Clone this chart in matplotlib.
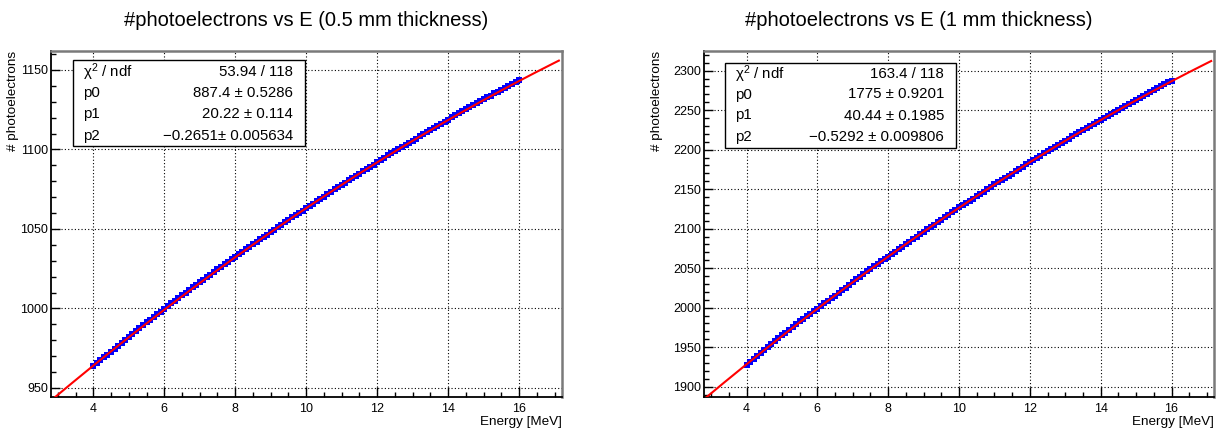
import numpy as np
import matplotlib
matplotlib.use("Agg")
import matplotlib.pyplot as plt
from matplotlib.patches import Rectangle
from matplotlib.ticker import MultipleLocator

plt.rcParams['font.family'] = ['Liberation Sans', 'DejaVu Sans']
plt.rcParams['mathtext.fontset'] = 'custom'
plt.rcParams['mathtext.rm'] = 'Liberation Sans'
plt.rcParams['mathtext.it'] = 'Liberation Sans:italic'

# ---------------- data ----------------
energy = [4.0, 4.1, 4.2, 4.3, 4.4, 4.5, 4.6, 4.7, 4.8, 4.9,
          5.0, 5.1, 5.2, 5.3, 5.4, 5.5, 5.6, 5.7, 5.8, 5.9,
          6.0, 6.1, 6.2, 6.3, 6.4, 6.5, 6.6, 6.7, 6.8, 6.9,
          7.0, 7.1, 7.2, 7.3, 7.4, 7.5, 7.6, 7.7, 7.8, 7.9,
          8.0, 8.1, 8.2, 8.3, 8.4, 8.5, 8.6, 8.7, 8.8, 8.9,
          9.0, 9.1, 9.2, 9.3, 9.4, 9.5, 9.6, 9.7, 9.8, 9.9,
          10.0, 10.1, 10.2, 10.3, 10.4, 10.5, 10.6, 10.7, 10.8, 10.9,
          11.0, 11.1, 11.2, 11.3, 11.4, 11.5, 11.6, 11.7, 11.8, 11.9,
          12.0, 12.1, 12.2, 12.3, 12.4, 12.5, 12.6, 12.7, 12.8, 12.9,
          13.0, 13.1, 13.2, 13.3, 13.4, 13.5, 13.6, 13.7, 13.8, 13.9,
          14.0, 14.1, 14.2, 14.3, 14.4, 14.5, 14.6, 14.7, 14.8, 14.9,
          15.0, 15.1, 15.2, 15.3, 15.4, 15.5, 15.6, 15.7, 15.8, 15.9,
          16.0]

npe_05mm = [963.6, 965.5, 967.3, 969.2, 971.0, 972.8, 974.7, 976.5, 978.4, 980.3,
            982.2, 984.1, 985.8, 987.7, 989.4, 991.2, 992.8, 994.6, 996.3, 998.0,
            999.8, 1001.4, 1003.2, 1004.8, 1006.5, 1008.2, 1009.9, 1011.5, 1013.2, 1014.8,
            1016.5, 1018.1, 1019.7, 1021.3, 1022.9, 1024.5, 1026.1, 1027.7, 1029.3, 1030.9,
            1032.5, 1034.0, 1035.6, 1037.2, 1038.7, 1040.3, 1041.8, 1043.5, 1045.0, 1046.5,
            1048.1, 1049.6, 1051.1, 1052.7, 1054.1, 1055.7, 1057.2, 1058.6, 1060.2, 1061.6,
            1063.2, 1064.6, 1066.0, 1067.6, 1069.0, 1070.4, 1072.0, 1073.3, 1074.9, 1076.2,
            1077.7, 1079.2, 1080.5, 1082.0, 1083.4, 1084.8, 1086.3, 1087.6, 1089.1, 1090.5,
            1092.0, 1093.4, 1094.9, 1096.2, 1097.6, 1099.0, 1100.3, 1101.6, 1103.0, 1104.3,
            1105.6, 1106.8, 1108.2, 1109.4, 1110.8, 1112.1, 1113.5, 1114.8, 1116.2, 1117.5,
            1118.8, 1120.1, 1121.4, 1122.7, 1123.9, 1125.2, 1126.5, 1127.7, 1129.0, 1130.2,
            1131.5, 1132.7, 1133.9, 1135.2, 1136.3, 1137.6, 1138.8, 1140.0, 1141.2, 1142.4,
            1143.5]

npe_1mm = [1927.2, 1931.0, 1934.8, 1938.5, 1942.3, 1946.0, 1949.8, 1953.6, 1957.4, 1961.1,
           1964.8, 1968.5, 1972.1, 1975.6, 1979.0, 1982.5, 1985.7, 1989.0, 1992.3, 1995.6,
           1998.9, 2002.1, 2005.3, 2008.5, 2011.7, 2015.0, 2018.4, 2021.9, 2025.4, 2028.9,
           2032.5, 2036.0, 2039.4, 2042.8, 2046.0, 2049.2, 2052.3, 2055.4, 2058.5, 2061.6,
           2064.7, 2067.8, 2070.8, 2073.8, 2076.9, 2080.0, 2083.2, 2086.5, 2089.7, 2092.9,
           2096.0, 2099.0, 2101.9, 2104.9, 2108.0, 2111.1, 2114.3, 2117.6, 2120.8, 2123.9,
           2126.9, 2129.9, 2132.7, 2135.5, 2138.2, 2140.9, 2143.8, 2146.8, 2149.9, 2153.0,
           2156.1, 2159.0, 2161.7, 2164.4, 2167.0, 2169.8, 2172.6, 2175.6, 2178.6, 2181.6,
           2184.5, 2187.3, 2190.0, 2192.6, 2195.2, 2197.8, 2200.4, 2203.0, 2205.7, 2208.4,
           2211.2, 2213.9, 2216.7, 2219.5, 2222.2, 2224.9, 2227.5, 2230.0, 2232.5, 2235.0,
           2237.4, 2239.9, 2242.4, 2245.0, 2247.6, 2250.3, 2252.9, 2255.5, 2258.1, 2260.6,
           2263.1, 2265.6, 2268.1, 2270.6, 2273.1, 2275.6, 2278.0, 2280.4, 2282.8, 2285.1,
           2287.4]

energy_halfwidth = 0.05
npe_err_05mm = 1.5
npe_err_1mm = 2.6

fit_05mm = [887.4, 20.22, -0.2651]
fit_1mm = [1775.0, 40.44, -0.5292]

stats_05mm = [("χ$^{2}$ / ndf", "53.94 / 118"),
              ("p0", "887.4 ± 0.5286"),
              ("p1", "20.22 ± 0.114"),
              ("p2", "\u22120.2651± 0.005634")]
stats_1mm = [("χ$^{2}$ / ndf", "163.4 / 118"),
             ("p0", "1775 ± 0.9201"),
             ("p1", "40.44 ± 0.1985"),
             ("p2", "\u22120.5292 ± 0.009806")]

titles = ["#photoelectrons vs E (0.5 mm thickness)",
          "#photoelectrons vs E (1 mm thickness)"]
xlabel = "Energy [MeV]"
ylabel = "# photoelectrons"

# ---------------- figure ----------------
W, H = 1225, 430
fig = plt.figure(figsize=(W / 100, H / 100), dpi=100)


def fx(px):
    return px / W


def fy(py):
    return 1 - py / H


panels = [
    dict(ax_px=(50.7, 561.7), y=npe_05mm, err=npe_err_05mm, fit=fit_05mm,
         ylim=(944.5, 1162.1), ymaj=50, ymin=10, stats=stats_05mm,
         box=(73, 60, 305, 146), lab_x=83, val_x=293, rows=[72, 93, 114, 136],
         title_x=306, ylab_x=13),
    dict(ax_px=(704, 1214), y=npe_1mm, err=npe_err_1mm, fit=fit_1mm,
         ylim=(1887.3, 2325.3), ymaj=50, ymin=10, stats=stats_1mm,
         box=(725, 63, 956, 148), lab_x=735, val_x=944, rows=[74, 94.5, 115.5, 137],
         title_x=919, ylab_x=657),
]

top_px, bot_px = 50.7, 396.7
for i, p in enumerate(panels):
    l, r = p['ax_px']
    ax = fig.add_axes([fx(l), fy(bot_px), fx(r - l), (bot_px - top_px) / H])
    ax.set_xlim(2.8, 17.2)
    ax.set_ylim(*p['ylim'])
    ax.xaxis.set_major_locator(MultipleLocator(2))
    ax.xaxis.set_minor_locator(MultipleLocator(0.5))
    ax.yaxis.set_major_locator(MultipleLocator(p['ymaj']))
    ax.yaxis.set_minor_locator(MultipleLocator(p['ymin']))
    ax.grid(True, which='major', color='black', linestyle=(0, (1, 2)), linewidth=0.8)
    ax.set_axisbelow(True)
    ax.tick_params(axis='both', which='both', direction='in', top=False, right=False,
                   labelsize=9, colors='black')
    ax.tick_params(axis='x', which='major', length=7, width=1, pad=4.5)
    ax.tick_params(axis='x', which='minor', length=3.5, width=1)
    ax.tick_params(axis='y', which='major', length=6.5, width=1, pad=2)
    ax.tick_params(axis='y', which='minor', length=3.5, width=1)
    for s in ('left', 'bottom'):
        ax.spines[s].set_color('black')
        ax.spines[s].set_linewidth(1.3)
    for s in ('top', 'right'):
        ax.spines[s].set_color('#7a7a7a')
        ax.spines[s].set_linewidth(1.8)

    ax.errorbar(energy, p['y'], xerr=energy_halfwidth, yerr=p['err'], fmt='s',
                color='#0000ff', ecolor='#3333ff', markersize=3.8, markeredgewidth=0,
                elinewidth=1.2, capsize=0, zorder=3)

    xf = np.linspace(2.8, 17.12, 300)
    a0, a1, a2 = p['fit']
    ax.plot(xf, a0 + a1 * xf + a2 * xf ** 2, color='#ff0000', linewidth=1.5, zorder=4)

    # stats box
    bx0, by0, bx1, by1 = p['box']
    fig.add_artist(Rectangle((fx(bx0), fy(by1)), fx(bx1 - bx0), (by1 - by0) / H,
                             transform=fig.transFigure, facecolor='white',
                             edgecolor='black', linewidth=1.0, zorder=10))
    for (lab, val), yy in zip(p['stats'], p['rows']):
        fig.text(fx(p['lab_x']), fy(yy), lab, ha='left', va='center', fontsize=10.8,
                 zorder=11)
        fig.text(fx(p['val_x']), fy(yy), val, ha='right', va='center', fontsize=10.8,
                 zorder=11)

    fig.text(fx(p['title_x']), fy(20), titles[i], ha='center', va='center', fontsize=14.5)
    fig.text(fx(r), fy(422), xlabel, ha='right', va='center', fontsize=9.7)
    fig.text(fx(p['ylab_x']), fy(51), ylabel, ha='center', va='top', rotation=90,
             fontsize=9.7)

fig.savefig('out.png', dpi=100)
